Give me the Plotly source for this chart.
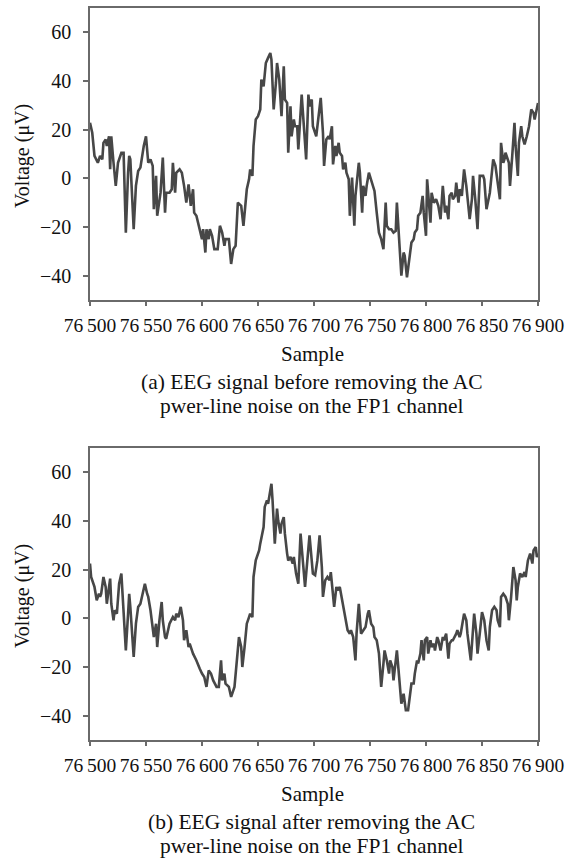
import plotly.graph_objects as go

# ---------------- data ----------------
samples_before = [
    76500, 76502, 76504, 76507, 76509, 76511, 76512, 76514, 76515, 76517,
    76518, 76519, 76521, 76523, 76525, 76528, 76530, 76532, 76534, 76535,
    76536, 76539, 76541, 76543, 76545, 76547, 76548, 76550, 76552, 76554,
    76556, 76557, 76559, 76560, 76563, 76565, 76567, 76568, 76571, 76573,
    76574, 76576, 76577, 76580, 76582, 76584, 76586, 76588, 76590, 76592,
    76593, 76595, 76597, 76599, 76600, 76601, 76603, 76604, 76606, 76607,
    76609, 76611, 76614, 76616, 76618, 76620, 76621, 76624, 76626, 76628,
    76630, 76632, 76635, 76637, 76639, 76640, 76642, 76643, 76645, 76646,
    76648, 76650, 76652, 76653, 76655, 76657, 76659, 76661, 76662, 76664,
    76666, 76667, 76669, 76671, 76673, 76674, 76676, 76677, 76679, 76680,
    76682, 76683, 76685, 76686, 76689, 76691, 76693, 76695, 76696, 76698,
    76699, 76702, 76704, 76706, 76708, 76709, 76711, 76713, 76714, 76716,
    76717, 76719, 76720, 76722, 76723, 76725, 76726, 76728, 76729, 76731,
    76732, 76734, 76736, 76737, 76740, 76741, 76743, 76744, 76746, 76747,
    76749, 76751, 76753, 76754, 76756, 76758, 76760, 76762, 76764, 76765,
    76767, 76769, 76771, 76773, 76774, 76776, 76778, 76780, 76781, 76783,
    76786, 76787, 76789, 76790, 76792, 76793, 76795, 76797, 76798, 76800,
    76801, 76804, 76805, 76807, 76809, 76811, 76813, 76815, 76817, 76818,
    76820, 76821, 76823, 76824, 76826, 76827, 76829, 76830, 76832, 76834,
    76836, 76839, 76841, 76842, 76844, 76846, 76848, 76851, 76852, 76854,
    76857, 76859, 76860, 76862, 76863, 76866, 76867, 76869, 76870, 76871,
    76874, 76875, 76877, 76879, 76880, 76882, 76883, 76885, 76886, 76888,
    76890, 76892, 76894, 76896, 76897, 76899, 76900,
]
voltage_before = [
    22.8, 18.7, 9.2, 6.4, 9.2, 7.8, 14.6, 16.0, 13.3, 17.3,
    3.7, 17.3, 6.4, -3.1, 6.4, 10.5, 10.5, -22.3, 2.3, 9.2,
    7.8, -20.9, -3.1, 3.0, 4.4, 11.9, 13.3, 17.3, 6.4, 7.8,
    5.1, -12.7, 1.0, -15.4, -5.9, 8.5, -14.1, -5.9, -5.9, -4.5,
    6.4, -5.9, 2.3, 3.7, 2.3, -3.1, -10.0, -2.5, -11.3, -4.5,
    -14.1, -15.4, -19.5, -22.3, -25.0, -20.9, -30.5, -20.9, -25.0, -20.9,
    -23.6, -29.1, -29.1, -19.5, -22.3, -27.7, -25.0, -25.0, -35.2, -29.1,
    -27.7, -10.0, -11.3, -19.5, -7.2, -4.5, -0.4, 3.7, 1.0, 13.3,
    24.2, 25.5, 28.3, 40.6, 37.8, 47.4, 49.5, 51.5, 48.8, 28.3,
    39.2, 47.4, 40.6, 25.5, 46.0, 32.4, 31.0, 10.5, 29.6, 17.3,
    24.2, 21.4, 21.4, 11.9, 34.4, 18.7, 7.8, 34.4, 29.6, 32.4,
    21.4, 17.3, 25.5, 33.1, 18.7, 5.1, 16.0, 17.3, 16.0, 21.4,
    5.7, 13.3, 9.2, 14.6, 10.5, 9.2, 3.7, 6.4, 2.3, -0.4,
    -15.4, 0.3, -19.5, -7.2, 6.4, 2.3, -14.1, -3.1, -7.2, -3.1,
    2.3, -0.4, -3.1, -5.2, -14.1, -22.3, -25.0, -29.1, -10.0, -19.5,
    -20.9, -20.9, -22.3, -21.6, -10.0, -23.6, -40.0, -30.5, -31.8, -40.7,
    -30.5, -26.4, -25.0, -22.3, -20.9, -15.4, -14.1, -7.2, -14.1, -23.6,
    -0.4, -18.2, -5.9, -10.0, -8.6, -11.3, -16.8, -3.1, -14.1, -11.3,
    -16.8, -7.2, -5.9, -8.6, -7.2, -1.8, -10.0, -4.5, -7.2, 3.7,
    -3.1, -16.8, -8.6, 1.0, -8.6, -20.9, 1.0, 1.0, -0.4, -12.7,
    -5.9, 5.1, 7.8, 5.1, 1.0, -8.6, 14.6, 6.4, 7.8, 10.5,
    6.4, -3.1, 9.2, 22.8, 13.3, 1.0, 14.6, 21.4, 17.3, 13.9,
    17.3, 21.4, 28.3, 26.9, 24.2, 29.6, 31.0,
]

samples_after = [
    76500, 76501, 76504, 76506, 76508, 76509, 76510, 76512, 76514, 76515,
    76518, 76519, 76521, 76522, 76524, 76526, 76528, 76530, 76532, 76534,
    76535, 76536, 76539, 76541, 76543, 76545, 76547, 76549, 76551, 76552,
    76554, 76555, 76557, 76559, 76560, 76562, 76564, 76565, 76567, 76568,
    76570, 76571, 76574, 76576, 76577, 76579, 76581, 76583, 76584, 76586,
    76588, 76589, 76591, 76592, 76595, 76597, 76598, 76600, 76602, 76604,
    76606, 76608, 76610, 76613, 76615, 76617, 76618, 76620, 76621, 76624,
    76626, 76629, 76631, 76633, 76635, 76636, 76638, 76640, 76642, 76643,
    76645, 76646, 76648, 76649, 76651, 76652, 76655, 76656, 76658, 76659,
    76661, 76662, 76663, 76665, 76667, 76668, 76670, 76671, 76673, 76674,
    76676, 76677, 76679, 76681, 76682, 76684, 76686, 76688, 76690, 76692,
    76696, 76697, 76699, 76701, 76703, 76705, 76707, 76708, 76710, 76712,
    76714, 76715, 76717, 76718, 76720, 76721, 76723, 76724, 76726, 76727,
    76728, 76730, 76732, 76733, 76735, 76737, 76738, 76740, 76742, 76744,
    76746, 76748, 76749, 76751, 76753, 76754, 76756, 76758, 76760, 76762,
    76763, 76765, 76767, 76768, 76770, 76771, 76773, 76774, 76776, 76778,
    76780, 76782, 76784, 76786, 76787, 76789, 76790, 76792, 76793, 76795,
    76796, 76798, 76799, 76801, 76802, 76804, 76805, 76807, 76808, 76810,
    76811, 76813, 76815, 76816, 76818, 76820, 76821, 76823, 76824, 76827,
    76828, 76830, 76831, 76833, 76834, 76836, 76837, 76840, 76842, 76843,
    76845, 76846, 76848, 76850, 76852, 76854, 76856, 76857, 76859, 76861,
    76863, 76864, 76866, 76867, 76869, 76871, 76873, 76874, 76876, 76878,
    76880, 76881, 76882, 76884, 76886, 76888, 76889, 76891, 76893, 76895,
    76896, 76898, 76899, 76900,
]
voltage_after = [
    22.5, 17.0, 12.9, 7.4, 10.1, 8.8, 10.1, 17.0, 12.9, 6.0,
    16.3, 6.0, -0.8, 3.3, 1.9, 14.2, 18.4, 0.5, -13.2, 1.9,
    10.1, 4.7, -15.9, -2.2, 4.7, 6.0, 10.1, 14.2, 10.1, 8.8,
    3.3, -0.8, -7.7, -2.2, -11.8, -0.8, 6.7, -0.8, -7.7, -8.4,
    -4.9, -2.2, 0.5, -0.8, 1.9, 0.5, 4.7, -0.8, -9.0, -4.9,
    -11.8, -10.4, -13.2, -14.5, -17.3, -20.0, -20.7, -22.7, -24.1, -28.2,
    -21.4, -22.7, -25.5, -28.2, -28.2, -17.3, -25.5, -22.7, -26.8, -28.2,
    -32.3, -28.2, -18.6, -7.7, -11.8, -20.0, -11.8, -2.2, 0.5, 1.9,
    0.5, 17.0, 23.8, 25.2, 27.9, 30.7, 37.5, 45.8, 48.5, 47.1,
    51.9, 55.3, 48.5, 30.7, 45.1, 40.3, 34.8, 38.9, 41.6, 34.8,
    26.6, 23.8, 25.2, 22.5, 25.2, 18.4, 14.2, 34.8, 23.8, 12.9,
    34.1, 29.3, 18.4, 17.7, 23.8, 34.1, 21.1, 8.8, 15.6, 17.0,
    15.6, 19.0, 8.8, 4.7, 12.9, 11.5, 12.9, 10.1, 4.7, 3.3,
    -0.8, -4.9, -6.3, -4.9, -7.7, -17.3, -6.3, 6.0, -6.3, -4.9,
    -3.6, 1.9, 3.3, -2.2, -3.6, -7.7, -9.0, -14.5, -28.2, -18.6,
    -13.2, -17.3, -22.7, -17.3, -20.0, -25.5, -18.6, -13.2, -24.1, -35.1,
    -31.0, -37.8, -37.8, -31.0, -26.8, -26.8, -22.7, -17.3, -18.6, -14.5,
    -9.0, -17.3, -9.0, -7.7, -14.5, -9.0, -11.8, -10.4, -13.2, -7.7,
    -9.0, -13.2, -7.7, -9.0, -6.3, -16.6, -10.4, -9.0, -9.0, -6.3,
    -4.9, -7.7, -6.3, -0.8, 1.9, -0.8, -6.3, -17.3, -3.6, 1.9,
    -6.3, -14.5, -6.3, 2.6, -0.8, -9.0, -13.2, -3.6, 3.3, 4.7,
    3.3, -0.8, -3.6, 8.8, 10.1, 8.8, 6.0, -0.8, 8.8, 21.1,
    15.6, 7.4, 12.9, 18.4, 17.0, 19.0, 17.0, 23.8, 26.6, 22.5,
    27.9, 29.3, 25.2, 26.6,
]

x_tick_values = [76500, 76550, 76600, 76650, 76700, 76750, 76800, 76850, 76900]
x_tick_labels = ["76\u2009500", "76\u2009550", "76\u2009600", "76\u2009650", "76\u2009700",
                 "76\u2009750", "76\u2009800", "76\u2009850", "76\u2009900"]
y_tick_values = [-40, -20, 0, 20, 40, 60]
y_tick_labels = ["\u221240", "\u221220", "0", "20", "40", "60"]

x_title = "Sample"
y_title = "Voltage (\u03bcV)"
caption_a = ["(a) EEG signal before removing the AC", "pwer-line noise on the FP1 channel"]
caption_b = ["(b) EEG signal after removing the AC", "pwer-line noise on the FP1 channel"]

# ---------------- styling ----------------
FONT = "Liberation Serif"
TEXT = "#111111"
LINE = "#474747"
FRAME = "#6a6a6a"

fig = go.Figure()
fig.add_trace(go.Scatter(x=samples_before, y=voltage_before, mode="lines",
                         line=dict(color=LINE, width=2.6), xaxis="x", yaxis="y",
                         showlegend=False, hoverinfo="skip"))
fig.add_trace(go.Scatter(x=samples_after, y=voltage_after, mode="lines",
                         line=dict(color=LINE, width=2.6), xaxis="x2", yaxis="y2",
                         showlegend=False, hoverinfo="skip"))

def xax(anchor):
    return dict(anchor=anchor, domain=[0, 1], range=[76500, 76900],
                tickmode="array", tickvals=x_tick_values, ticktext=x_tick_labels,
                tickangle=0, automargin=False,
                ticks="outside", ticklen=4, tickwidth=1.5, tickcolor=FRAME,
                showline=True, linecolor=FRAME, linewidth=1.6, mirror=True,
                showgrid=False, zeroline=False, ticklabelstandoff=3,
                tickfont=dict(family=FONT, size=19.5, color=TEXT))

def yax(anchor, domain):
    return dict(anchor=anchor, domain=domain, range=[-50, 70],
                tickmode="array", tickvals=y_tick_values, ticktext=y_tick_labels,
                automargin=False,
                ticks="outside", ticklen=5, tickwidth=1.5, tickcolor=FRAME,
                showline=True, linecolor=FRAME, linewidth=1.6, mirror=True,
                showgrid=False, zeroline=False, ticklabelstandoff=8,
                tickfont=dict(family=FONT, size=20, color=TEXT))

H_TOTAL = 732.0
top_dom = [1 - 292 / H_TOTAL, 1]
bot_dom = [0, 292 / H_TOTAL]

def py(abs_y):
    return (740 - abs_y) / H_TOTAL

def px(abs_x):
    return (abs_x - 90) / 448.0

annotations = []
for off, cap in [(0, caption_a), (440, caption_b)]:
    annotations.append(dict(text=x_title, xref="paper", yref="paper",
                            x=px(312), y=py(354 + off), xanchor="center", yanchor="middle",
                            showarrow=False, font=dict(family=FONT, size=21, color=TEXT)))
    annotations.append(dict(text=cap[0], xref="paper", yref="paper",
                            x=px(311.7), y=py(382 + off), xanchor="center", yanchor="middle",
                            showarrow=False, font=dict(family=FONT, size=21.5, color=TEXT)))
    annotations.append(dict(text=cap[1], xref="paper", yref="paper",
                            x=px(311.7), y=py(406 + off), xanchor="center", yanchor="middle",
                            showarrow=False, font=dict(family=FONT, size=21.5, color=TEXT)))
    annotations.append(dict(text=y_title, xref="paper", yref="paper", textangle=-90,
                            x=px(22), y=py(156 + off), xanchor="center", yanchor="middle",
                            showarrow=False, font=dict(family=FONT, size=20, color=TEXT)))

fig.update_layout(
    width=566, height=863,
    margin=dict(l=90, r=28, t=8, b=123, pad=0, autoexpand=False),
    paper_bgcolor="white", plot_bgcolor="white",
    xaxis=xax("y"), yaxis=yax("x", top_dom),
    xaxis2=xax("y2"), yaxis2=yax("x2", bot_dom),
    annotations=annotations,
    showlegend=False,
)

fig.write_html("out.html", config={"displayModeBar": False},
               post_script="document.body.style.margin='0';")
